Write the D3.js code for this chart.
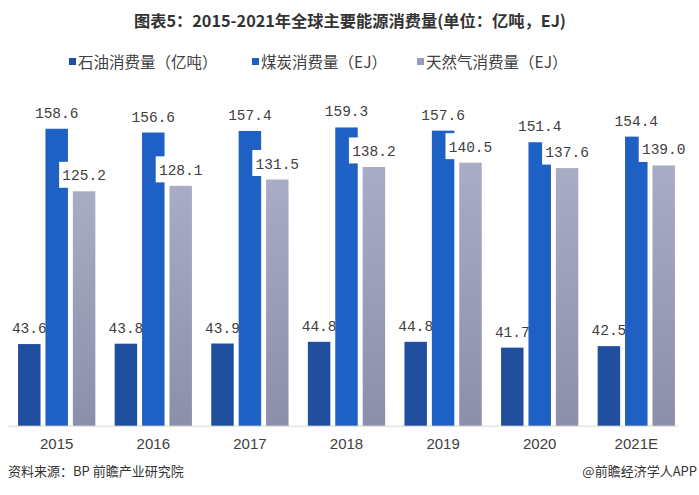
<!DOCTYPE html>
<html>
<head>
<meta charset="utf-8">
<script src="https://cdn.jsdelivr.net/npm/d3@7/dist/d3.min.js"></script>
<style>
  html, body { margin: 0; padding: 0; background: #ffffff; }
  svg { display: block; }
</style>
</head>
<body>
<svg id="chart" width="699" height="495"></svg>
<script>
// ---- data ----
const years = ["2015", "2016", "2017", "2018", "2019", "2020", "2021E"];
const seriesNames = ["石油消费量（亿吨）", "煤炭消费量（EJ）", "天然气消费量（EJ）"];
const oil = [43.6, 43.8, 43.9, 44.8, 44.8, 41.7, 42.5];
const coal = [158.6, 156.6, 157.4, 159.3, 157.6, 151.4, 154.4];
const gas = [125.2, 128.1, 131.5, 138.2, 140.5, 137.6, 139.0];
const titleText = "图表5：2015-2021年全球主要能源消费量(单位：亿吨，EJ)";
const sourceText = "资料来源：BP 前瞻产业研究院";
const creditText = "@前瞻经济学人APP";

const seriesValues = [oil, coal, gas];
const colors = ["#1f4f9e", "#1f60c4", "url(#gasGrad)"];
const legendColors = ["#1f4f9e", "#1f60c4", "#9a9db5"];

const svg = d3.select("#chart");

// gradient for gas bars
const defs = svg.append("defs");
const grad = defs.append("linearGradient").attr("id", "gasGrad")
  .attr("x1", 0).attr("y1", 0).attr("x2", 0).attr("y2", 1);
grad.append("stop").attr("offset", "0%").attr("stop-color", "#a9acc5");
grad.append("stop").attr("offset", "100%").attr("stop-color", "#8b8fa9");

// scales
const x0 = d3.scaleBand().domain(years).range([8.4, 684.6]).paddingInner(0.2).paddingOuter(0.1);
const x1 = d3.scaleBand().domain(d3.range(3)).range([0, x0.bandwidth()]).paddingInner(0.18);
const baseY = 425.7;
const y = d3.scaleLinear().domain([0, 180]).range([baseY, 88.7]);

// title
svg.append("text")
  .attr("x", 350).attr("y", 27)
  .attr("text-anchor", "middle")
  .attr("font-family", "'Noto Sans CJK SC', sans-serif")
  .attr("font-weight", "bold")
  .attr("font-size", 16)
  .attr("fill", "#333333")
  .attr("textLength", 432)
  .attr("lengthAdjust", "spacingAndGlyphs")
  .text(titleText);

// legend
const legendX = [69, 252, 417];
seriesNames.forEach((name, i) => {
  svg.append("rect")
    .attr("x", legendX[i]).attr("y", 58)
    .attr("width", 7).attr("height", 7)
    .attr("fill", legendColors[i]);
  svg.append("text")
    .attr("x", legendX[i] + 9).attr("y", 68)
    .attr("font-family", "'Noto Sans CJK SC', sans-serif")
    .attr("font-size", 15.5)
    .attr("fill", "#404040")
    .text(name);
});

// x axis line
svg.append("line")
  .attr("x1", 8).attr("x2", 678)
  .attr("y1", baseY + 0.5).attr("y2", baseY + 0.5)
  .attr("stroke", "#d9d9d9").attr("stroke-width", 1);

// bars + labels, series by series
const fmt = d3.format(".1f");
seriesValues.forEach((vals, si) => {
  const g = svg.append("g");
  years.forEach((yr, i) => {
    const bx = x0(yr) + x1(si);
    const bw = x1.bandwidth();
    const top = y(vals[i]);
    g.append("rect")
      .attr("x", bx).attr("y", top)
      .attr("width", bw).attr("height", baseY - top)
      .attr("fill", colors[si]);
  });
  years.forEach((yr, i) => {
    const cx = x0(yr) + x1(si) + x1.bandwidth() / 2;
    const top = y(vals[i]);
    const cy = top - 16.5;
    g.append("rect")
      .attr("x", cx - 25).attr("y", cy - 13)
      .attr("width", 48).attr("height", 26)
      .attr("fill", "#ffffff");
    g.append("text")
      .attr("x", cx).attr("y", cy + 5.5)
      .attr("text-anchor", "middle")
      .attr("font-family", "'Liberation Mono', 'DejaVu Sans Mono', monospace")
      .attr("font-size", 14.5)
      .attr("fill", "#404040")
      .text(fmt(vals[i]));
  });
});

// x axis labels
const xAxis = d3.axisBottom(x0).tickSize(0).tickPadding(0);
const ax = svg.append("g").attr("transform", `translate(0, ${baseY})`).call(xAxis);
ax.select(".domain").remove();
ax.selectAll("text")
  .attr("y", 23)
  .attr("dy", null)
  .attr("font-family", "'Liberation Sans', Arial, sans-serif")
  .attr("font-size", 15)
  .attr("fill", "#404040");

// footer
svg.append("text")
  .attr("x", 8).attr("y", 476)
  .attr("font-family", "'Noto Sans CJK SC', sans-serif")
  .attr("font-size", 13)
  .attr("fill", "#333333")
  .text(sourceText);
svg.append("text")
  .attr("x", 697).attr("y", 476)
  .attr("text-anchor", "end")
  .attr("font-family", "'Noto Sans CJK SC', sans-serif")
  .attr("font-size", 13)
  .attr("fill", "#333333")
  .text(creditText);
</script>
</body>
</html>
